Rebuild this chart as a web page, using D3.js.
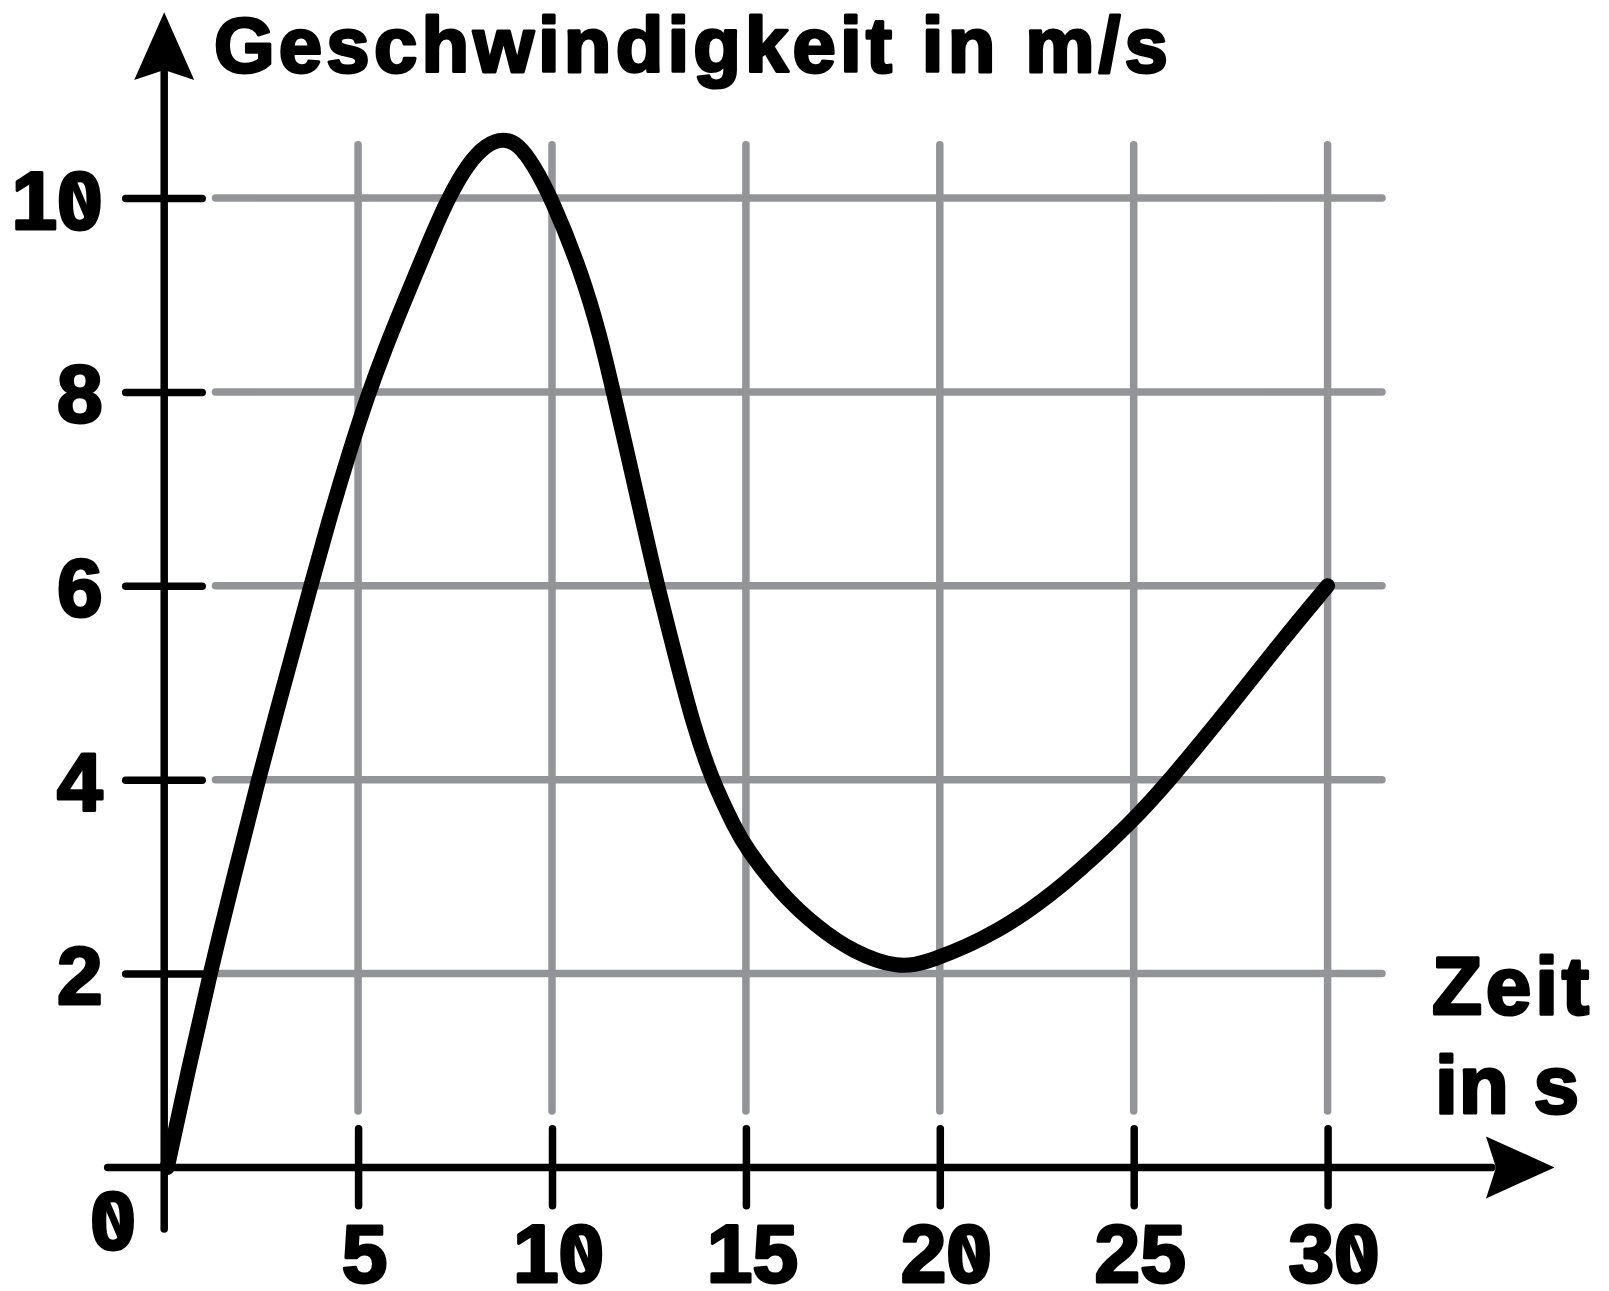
<!DOCTYPE html>
<html><head><meta charset="utf-8">
<script src="https://cdn.jsdelivr.net/npm/d3@7"></script>
<style>html,body{margin:0;padding:0;background:#fff}svg{display:block}</style>
</head><body>
<svg id="c" width="1609" height="1291"></svg>
<script>
// ---- data ----
const timeTicks = [5, 10, 15, 20, 25, 30];
const timeLabels = ["5", "10", "15", "20", "25", "30"];
const speedTicks = [2, 4, 6, 8, 10];
const speedLabels = ["2", "4", "6", "8", "10"];
const originLabel = "0";
const titleText = "Geschwindigkeit in m/s";
const xTitleLines = ["Zeit", "in s"];
const curveTime  = [0.08, 0.62, 1.18, 1.83, 2.43, 2.90, 3.33, 3.76, 4.23, 4.79, 5.24, 5.7, 6.21, 6.8, 7.32, 7.84, 8.3, 8.74, 9.15, 9.51, 10.0, 10.77, 11.24, 11.58, 12.01, 12.4, 12.72, 13.21, 13.64, 14.12, 14.72, 15.0, 15.88, 16.83, 17.77, 18.93, 19.74, 21.47, 23.19, 25.0, 25.94, 27.48, 28.77, 30.0];
const curveSpeed = [0.0, 1.0, 2.0, 3.05, 4.0, 4.7, 5.33, 5.97, 6.65, 7.4, 7.95, 8.45, 8.95, 9.52, 10.0, 10.36, 10.55, 10.62, 10.55, 10.35, 9.99, 9.22, 8.58, 8.0, 7.25, 6.56, 6.0, 5.23, 4.57, 4.0, 3.5, 3.3, 2.83, 2.48, 2.22, 2.05, 2.12, 2.41, 2.90, 3.58, 4.0, 4.75, 5.41, 6.0];

// ---- layout ----
const svg = d3.select("#c");
const x = d3.scaleLinear().domain([0, 30]).range([164.2, 1327.6]);
const y = d3.scaleLinear().domain([0, 10]).range([1167.4, 198]);
const GRID = "#939498";
const FONT = "'Liberation Sans', Arial, sans-serif";
const FS = 82;
const TSTROKE = 3;

// grid
const grid = svg.append("g").attr("stroke", GRID).attr("stroke-width", 7.5).attr("stroke-linecap", "round");
grid.selectAll("line.v").data(timeTicks).join("line").attr("class", "v")
  .attr("x1", d => x(d)).attr("x2", d => x(d)).attr("y1", 144.7).attr("y2", 1111);
grid.selectAll("line.h").data(speedTicks).join("line").attr("class", "h")
  .attr("y1", d => y(d)).attr("y2", d => y(d)).attr("x1", 215.5).attr("x2", 1382);

// axes
const yAxis = d3.axisLeft(y).tickValues(speedTicks).tickFormat((d, i) => speedLabels[i]).tickSize(0);
const gy = svg.append("g").attr("transform", `translate(${x(0)},0)`).call(yAxis);
gy.select(".domain").remove();
gy.selectAll(".tick line").attr("x1", -38.5).attr("x2", 38).attr("stroke", "#000").attr("stroke-width", 7.5).attr("stroke-linecap", "round");
gy.selectAll(".tick text").attr("x", -61.5).attr("dy", 30).attr("fill", "#000")
  .attr("font-weight", "bold").attr("text-anchor", "end")
  .attr("stroke", "#000").attr("stroke-width", TSTROKE).attr("stroke-linejoin", "round");

const xAxis = d3.axisBottom(x).tickValues(timeTicks).tickFormat((d, i) => timeLabels[i]).tickSize(0);
const gx = svg.append("g").attr("transform", `translate(0,${y(0)})`).call(xAxis);
gx.select(".domain").remove();
gx.selectAll(".tick line").attr("y1", -38.7).attr("y2", 38.3).attr("stroke", "#000").attr("stroke-width", 7.5).attr("stroke-linecap", "round");
gx.selectAll(".tick text").attr("x", 6).attr("y", 114.6).attr("dy", 0).attr("fill", "#000")
  .attr("font-weight", "bold").attr("text-anchor", "middle")
  .attr("stroke", "#000").attr("stroke-width", TSTROKE).attr("stroke-linejoin", "round");
svg.selectAll(".tick text").attr("font-family", FONT).attr("font-size", FS);

// axis lines and arrows
const x0 = x(0), y0 = y(0);
const axes = svg.append("g").attr("stroke", "#000").attr("stroke-width", 7.5).attr("stroke-linecap", "round");
axes.append("line").attr("x1", x0).attr("x2", x0).attr("y1", 72).attr("y2", 1229);
axes.append("line").attr("x1", 107.7).attr("x2", 1492).attr("y1", y0).attr("y2", y0);
svg.append("path").attr("fill", "#000")
  .attr("d", `M${x0},12.3 L${x0 + 30},80 L${x0},70 L${x0 - 30},80 Z`);
svg.append("path").attr("fill", "#000")
  .attr("d", `M1554.5,${y0} L1486,${y0 - 31} L1496,${y0} L1486,${y0 + 31} Z`);

// origin label
const org = svg.append("g").append("text").attr("x", 113).attr("y", 1249).attr("text-anchor", "middle")
  .attr("font-size", FS).attr("font-weight", "bold").attr("font-family", FONT)
  .attr("stroke", "#000").attr("stroke-width", TSTROKE).attr("stroke-linejoin", "round").text(originLabel);

// titles
svg.append("text").attr("x", 214).attr("y", 71.5)
  .attr("font-size", 78).attr("font-weight", "bold").attr("font-family", FONT)
  .attr("stroke", "#000").attr("stroke-width", TSTROKE).attr("stroke-linejoin", "round")
  .attr("textLength", 954).attr("lengthAdjust", "spacing").text(titleText);
const xt = svg.append("g").attr("font-size", FS).attr("font-weight", "bold").attr("font-family", FONT)
  .attr("stroke", "#000").attr("stroke-width", TSTROKE).attr("stroke-linejoin", "round");
xt.append("text").attr("x", 1432).attr("y", 1014).attr("textLength", 157).attr("lengthAdjust", "spacing").text(xTitleLines[0]);
xt.append("text").attr("x", 1435).attr("y", 1113).attr("textLength", 144).attr("lengthAdjust", "spacing").text(xTitleLines[1]);

// slashed zeros: overlay a diagonal bar inside every "0" glyph
function slashZeros(sel) {
  sel.each(function () {
    const t = this, s = t.textContent;
    for (let i = 0; i < s.length; i++) {
      if (s[i] !== "0") continue;
      const ext = t.getExtentOfChar(i);
      const base = +t.getAttribute("y") + (+t.getAttribute("dy") || 0);
      const cx = ext.x;
      d3.select(t.parentNode).append("line")
        .attr("x1", cx + 0.18 * FS).attr("y1", base - 0.61 * FS)
        .attr("x2", cx + 0.39 * FS).attr("y2", base - 0.11 * FS)
        .attr("stroke", "#000").attr("stroke-width", 7);
    }
  });
}
slashZeros(gy.selectAll(".tick text"));
slashZeros(gx.selectAll(".tick text"));
slashZeros(org);

// curve
const pts = curveTime.map((t, i) => [t, curveSpeed[i]]);
const line = d3.line().x(d => x(d[0])).y(d => y(d[1])).curve(d3.curveBasis);
svg.append("path").attr("d", line(pts)).attr("fill", "none").attr("stroke", "#000")
  .attr("stroke-width", 15).attr("stroke-linejoin", "round").attr("stroke-linecap", "round");
</script>
</body></html>
